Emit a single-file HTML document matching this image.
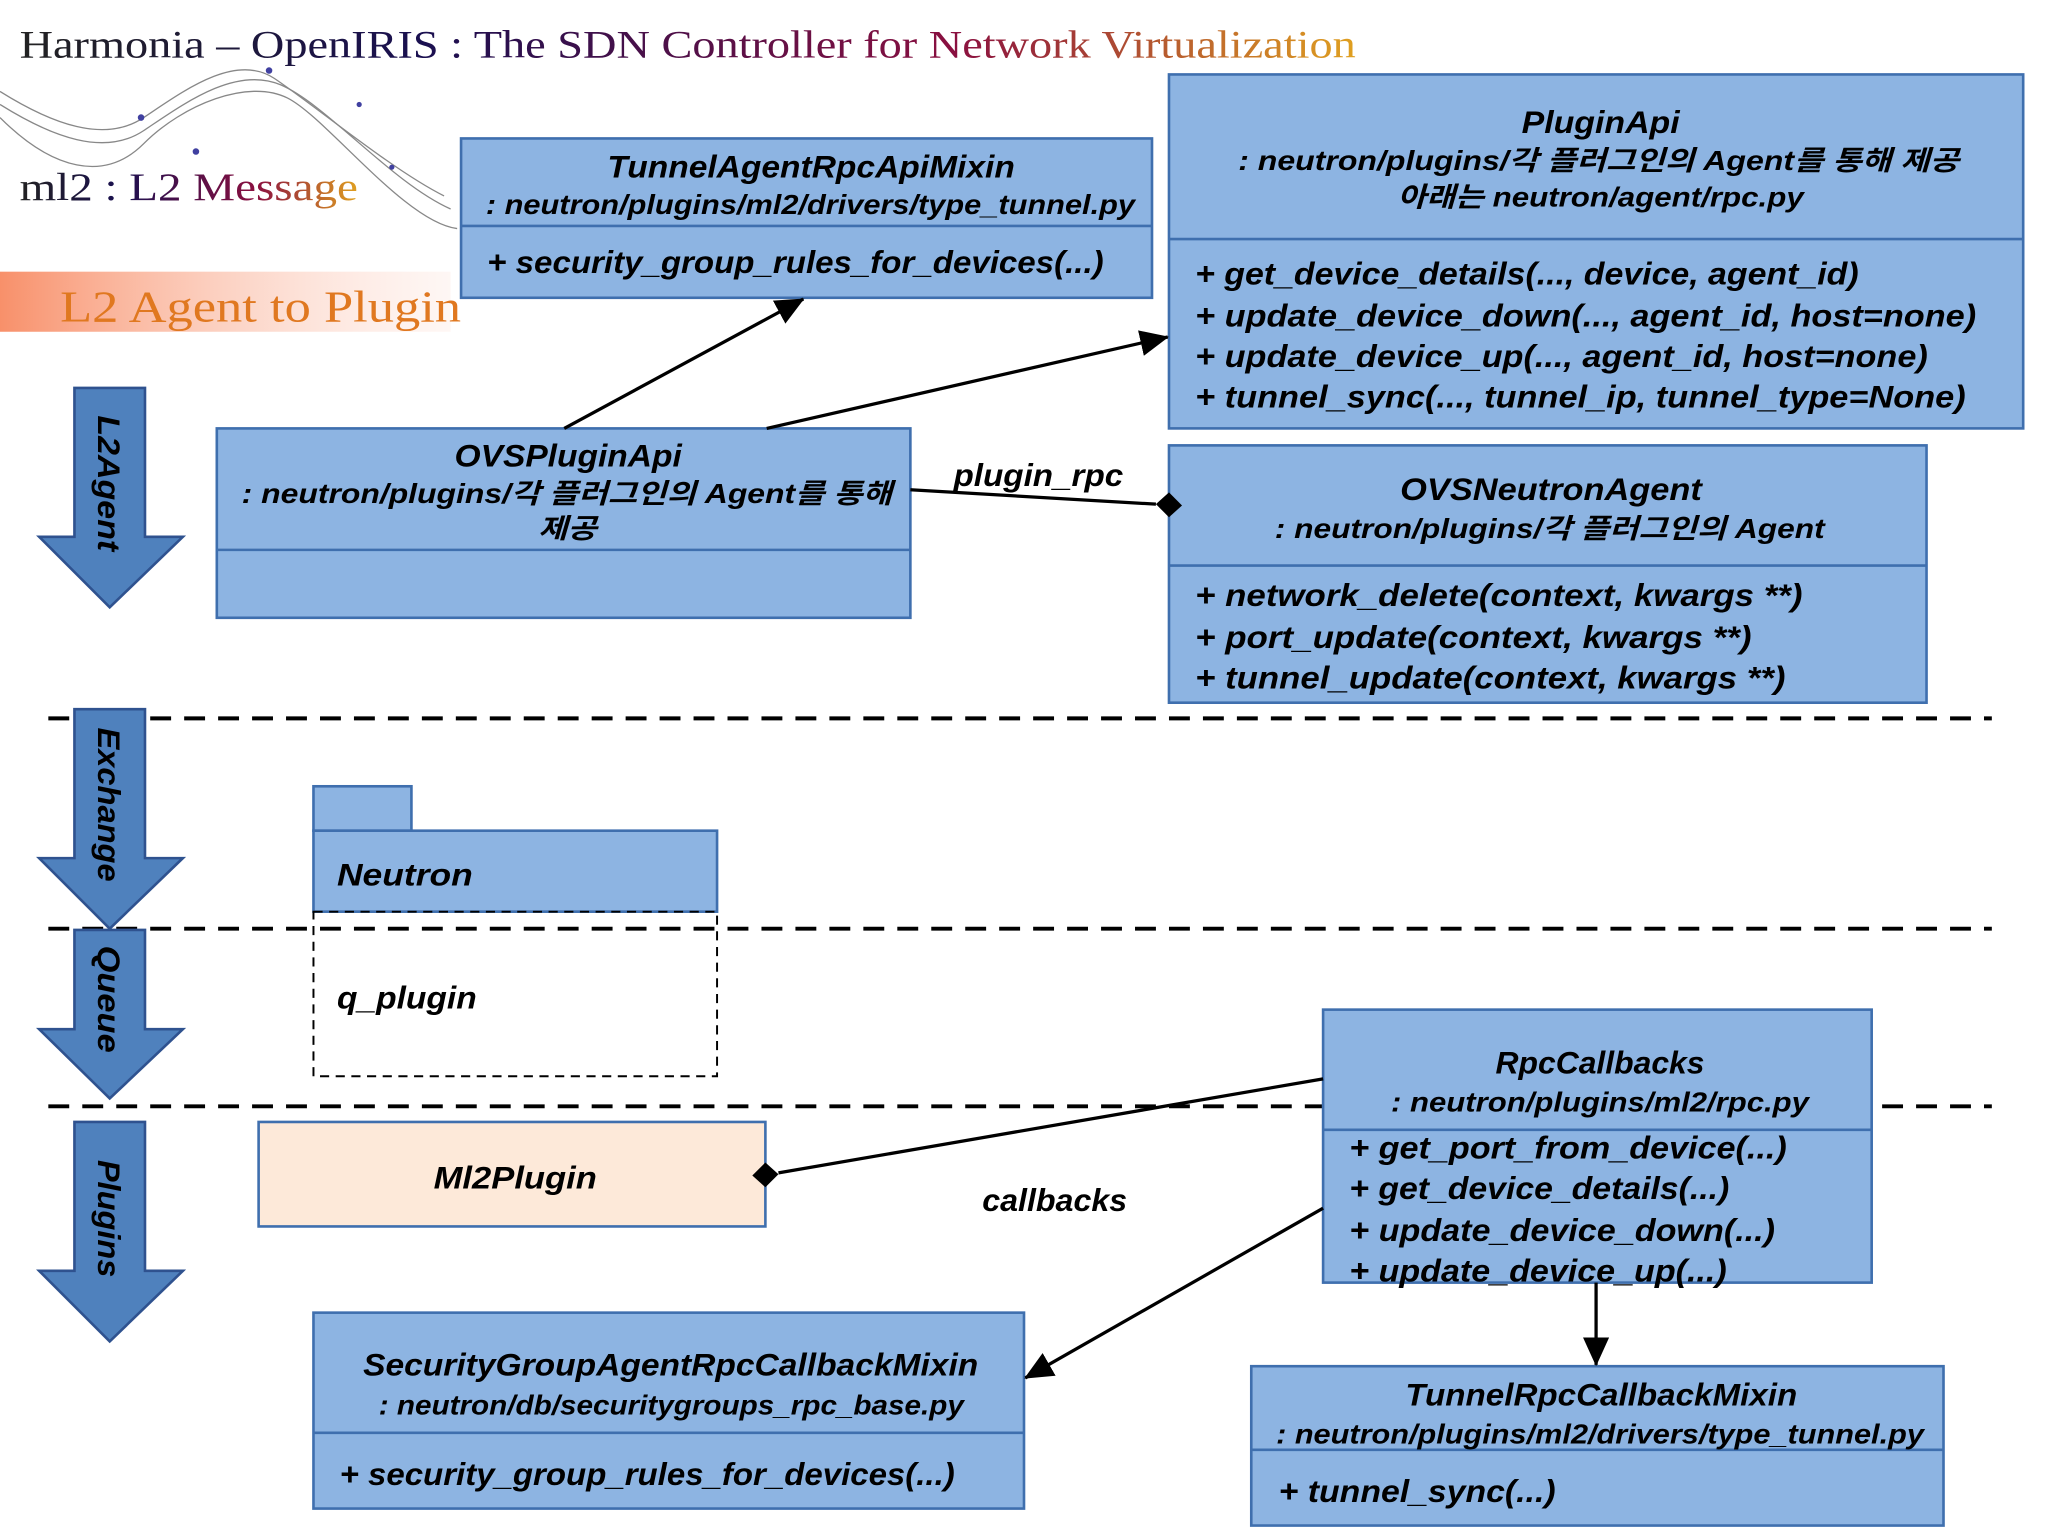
<!DOCTYPE html>
<html><head><meta charset="utf-8"><style>
html,body{margin:0;padding:0;background:#fff;}
svg{display:block;}
.t{font-family:"Liberation Sans","Noto Sans CJK KR",sans-serif;font-weight:bold;font-style:italic;fill:#000;}
.b{fill:#8db4e2;stroke:#3f6fae;stroke-width:2;}
.ar{fill:#4f81bd;stroke:#2f528f;stroke-width:2;}
</style></head><body>
<svg width="2048" height="1536" viewBox="0 0 1568 1176" xmlns="http://www.w3.org/2000/svg">
<defs>
<linearGradient id="og" x1="0" x2="1"><stop offset="0" stop-color="#f8906a"/><stop offset="1" stop-color="#fde4dc" stop-opacity="0.3"/></linearGradient>
<linearGradient id="tg" x1="0" x2="1"><stop offset="0" stop-color="#222"/><stop offset="0.3" stop-color="#1a1050"/><stop offset="0.7" stop-color="#8a1040"/><stop offset="1" stop-color="#e0a020"/></linearGradient>
<marker id="ah" markerWidth="12" markerHeight="12" refX="11" refY="6" orient="auto" markerUnits="userSpaceOnUse"><path d="M0,0 L12,6 L0,12 z" fill="#000"/></marker>
<marker id="ah2" markerWidth="22" markerHeight="20" refX="21" refY="10" orient="auto" markerUnits="userSpaceOnUse"><path d="M0,0 L22,10 L0,20 z" fill="#000"/></marker>
</defs>
<!-- decorative swirls -->
<g fill="none" stroke="#888" stroke-width="1">
<path d="M0,70 C40,95 80,110 110,90 S180,40 210,60 S300,130 340,150"/>
<path d="M0,80 C40,105 80,120 110,100 S180,50 215,65 S300,140 345,160"/>
<path d="M0,90 C40,130 80,140 110,110 S190,60 220,75 S310,170 350,175"/>
</g>
<g fill="#4040a0"><circle cx="206" cy="54" r="2.5"/><circle cx="108" cy="90" r="2.5"/><circle cx="150" cy="116" r="2.5"/><circle cx="275" cy="80" r="2"/><circle cx="300" cy="128" r="2"/></g>
<!-- title -->
<text x="15" y="44" font-family="Liberation Serif,serif" font-size="30" fill="url(#tg)" textLength="1023" lengthAdjust="spacingAndGlyphs">Harmonia – OpenIRIS : The SDN Controller for Network Virtualization</text>
<text x="15" y="153" font-family="Liberation Serif,serif" font-size="30" fill="url(#tg)" textLength="259" lengthAdjust="spacingAndGlyphs">ml2 : L2 Message</text>
<rect x="0" y="208" width="345" height="46" fill="url(#og)"/>
<text x="46" y="246" font-family="Liberation Serif,serif" font-size="34" fill="#e07820" textLength="307" lengthAdjust="spacingAndGlyphs">L2 Agent to Plugin</text>

<!-- dashed separators -->
<g stroke="#000" stroke-width="3" stroke-dasharray="16,10">
<line x1="37" y1="550" x2="1525" y2="550"/>
<line x1="37" y1="711" x2="1525" y2="711"/>
<line x1="37" y1="847" x2="1525" y2="847"/>
</g>

<!-- block arrows -->
<path class="ar" d="M57,297 H111 V411 H140 L84,465 L30,411 H57 Z"/>
<path class="ar" d="M57,543 H111 V657 H140 L84,711 L30,657 H57 Z"/>
<path class="ar" d="M57,712 H111 V788 H140 L84,841 L30,788 H57 Z"/>
<path class="ar" d="M57,859 H111 V973 H140 L84,1027 L30,973 H57 Z"/>
<text class="t" font-size="24" transform="translate(75,318) rotate(90)" textLength="104" lengthAdjust="spacingAndGlyphs">L2Agent</text>
<text class="t" font-size="24" transform="translate(75,557) rotate(90)" textLength="118" lengthAdjust="spacingAndGlyphs">Exchange</text>
<text class="t" font-size="24" transform="translate(75,724) rotate(90)" textLength="82" lengthAdjust="spacingAndGlyphs">Queue</text>
<text class="t" font-size="24" transform="translate(75,888) rotate(90)" textLength="90" lengthAdjust="spacingAndGlyphs">Plugins</text>

<!-- TunnelAgentRpcApiMixin -->
<rect class="b" x="353" y="106" width="529" height="122"/><line x1="353" y1="173" x2="882" y2="173" stroke="#3f6fae" stroke-width="2"/>
<text class="t" font-size="24" x="465" y="136" textLength="312" lengthAdjust="spacingAndGlyphs">TunnelAgentRpcApiMixin</text>
<text class="t" font-size="21" x="372" y="164" textLength="497" lengthAdjust="spacingAndGlyphs">: neutron/plugins/ml2/drivers/type_tunnel.py</text>
<text class="t" font-size="24" x="373" y="209" textLength="472" lengthAdjust="spacingAndGlyphs">+ security_group_rules_for_devices(...)</text>

<!-- PluginApi -->
<rect class="b" x="895" y="57" width="654" height="271"/><line x1="895" y1="183" x2="1549" y2="183" stroke="#3f6fae" stroke-width="2"/>
<text class="t" font-size="24" x="1165" y="102" textLength="121" lengthAdjust="spacingAndGlyphs">PluginApi</text>
<text class="t" font-size="21" x="948" y="130" textLength="552" lengthAdjust="spacingAndGlyphs">: neutron/plugins/각 플러그인의 Agent를 통해 제공</text>
<text class="t" font-size="21" x="1070" y="158" textLength="311" lengthAdjust="spacingAndGlyphs">아래는 neutron/agent/rpc.py</text>
<text class="t" font-size="24" x="915" y="218" textLength="508" lengthAdjust="spacingAndGlyphs">+ get_device_details(..., device, agent_id)</text>
<text class="t" font-size="24" x="915" y="250" textLength="598" lengthAdjust="spacingAndGlyphs">+ update_device_down(..., agent_id, host=none)</text>
<text class="t" font-size="24" x="915" y="281" textLength="561" lengthAdjust="spacingAndGlyphs">+ update_device_up(..., agent_id, host=none)</text>
<text class="t" font-size="24" x="915" y="312" textLength="590" lengthAdjust="spacingAndGlyphs">+ tunnel_sync(..., tunnel_ip, tunnel_type=None)</text>

<!-- OVSPluginApi -->
<rect class="b" x="166" y="328" width="531" height="145"/><line x1="166" y1="421" x2="697" y2="421" stroke="#3f6fae" stroke-width="2"/>
<text class="t" font-size="24" x="348" y="357" textLength="174" lengthAdjust="spacingAndGlyphs">OVSPluginApi</text>
<text class="t" font-size="21" x="185" y="385" textLength="498" lengthAdjust="spacingAndGlyphs">: neutron/plugins/각 플러그인의 Agent를 통해</text>
<text class="t" font-size="21" x="412" y="412" textLength="45" lengthAdjust="spacingAndGlyphs">제공</text>

<!-- OVSNeutronAgent -->
<rect class="b" x="895" y="341" width="580" height="197"/><line x1="895" y1="433" x2="1475" y2="433" stroke="#3f6fae" stroke-width="2"/>
<text class="t" font-size="24" x="1072" y="383" textLength="231" lengthAdjust="spacingAndGlyphs">OVSNeutronAgent</text>
<text class="t" font-size="21" x="976" y="412" textLength="421" lengthAdjust="spacingAndGlyphs">: neutron/plugins/각 플러그인의 Agent</text>
<text class="t" font-size="24" x="915" y="464" textLength="465" lengthAdjust="spacingAndGlyphs">+ network_delete(context, kwargs **)</text>
<text class="t" font-size="24" x="915" y="496" textLength="426" lengthAdjust="spacingAndGlyphs">+ port_update(context, kwargs **)</text>
<text class="t" font-size="24" x="915" y="527" textLength="452" lengthAdjust="spacingAndGlyphs">+ tunnel_update(context, kwargs **)</text>

<!-- Neutron package -->
<rect class="b" x="240" y="602" width="75" height="34"/>
<rect class="b" x="240" y="636" width="309" height="62"/>
<rect x="240" y="698" width="309" height="126" fill="none" stroke="#000" stroke-width="1.5" stroke-dasharray="7,5"/>
<text class="t" font-size="24" x="258" y="678" textLength="104" lengthAdjust="spacingAndGlyphs">Neutron</text>
<text class="t" font-size="24" x="258" y="772" textLength="107" lengthAdjust="spacingAndGlyphs">q_plugin</text>

<!-- Ml2Plugin -->
<rect x="198" y="859" width="388" height="80" fill="#fde9d9" stroke="#3f6fae" stroke-width="2"/>
<text class="t" font-size="24" x="332" y="910" textLength="125" lengthAdjust="spacingAndGlyphs">Ml2Plugin</text>

<!-- RpcCallbacks -->
<rect class="b" x="1013" y="773" width="420" height="209"/><line x1="1013" y1="865" x2="1433" y2="865" stroke="#3f6fae" stroke-width="2"/>
<text class="t" font-size="24" x="1145" y="822" textLength="160" lengthAdjust="spacingAndGlyphs">RpcCallbacks</text>
<text class="t" font-size="21" x="1065" y="851" textLength="320" lengthAdjust="spacingAndGlyphs">: neutron/plugins/ml2/rpc.py</text>
<text class="t" font-size="24" x="1033" y="887" textLength="335" lengthAdjust="spacingAndGlyphs">+ get_port_from_device(...)</text>
<text class="t" font-size="24" x="1033" y="918" textLength="291" lengthAdjust="spacingAndGlyphs">+ get_device_details(...)</text>
<text class="t" font-size="24" x="1033" y="950" textLength="326" lengthAdjust="spacingAndGlyphs">+ update_device_down(...)</text>
<text class="t" font-size="24" x="1033" y="981" textLength="289" lengthAdjust="spacingAndGlyphs">+ update_device_up(...)</text>

<!-- SecurityGroupAgentRpcCallbackMixin -->
<rect class="b" x="240" y="1005" width="544" height="150"/><line x1="240" y1="1097" x2="784" y2="1097" stroke="#3f6fae" stroke-width="2"/>
<text class="t" font-size="24" x="278" y="1053" textLength="471" lengthAdjust="spacingAndGlyphs">SecurityGroupAgentRpcCallbackMixin</text>
<text class="t" font-size="21" x="290" y="1083" textLength="448" lengthAdjust="spacingAndGlyphs">: neutron/db/securitygroups_rpc_base.py</text>
<text class="t" font-size="24" x="260" y="1137" textLength="471" lengthAdjust="spacingAndGlyphs">+ security_group_rules_for_devices(...)</text>

<!-- TunnelRpcCallbackMixin -->
<rect class="b" x="958" y="1046" width="530" height="122"/><line x1="958" y1="1110" x2="1488" y2="1110" stroke="#3f6fae" stroke-width="2"/>
<text class="t" font-size="24" x="1076" y="1076" textLength="300" lengthAdjust="spacingAndGlyphs">TunnelRpcCallbackMixin</text>
<text class="t" font-size="21" x="977" y="1105" textLength="496" lengthAdjust="spacingAndGlyphs">: neutron/plugins/ml2/drivers/type_tunnel.py</text>
<text class="t" font-size="24" x="979" y="1150" textLength="212" lengthAdjust="spacingAndGlyphs">+ tunnel_sync(...)</text>

<!-- connectors -->
<g stroke="#000" stroke-width="2.5" fill="none">
<line x1="432" y1="328" x2="615" y2="229" marker-end="url(#ah2)"/>
<line x1="587" y1="328" x2="894" y2="258" marker-end="url(#ah2)"/>
<line x1="697" y1="375" x2="885" y2="386"/>
<line x1="596" y1="898" x2="1013" y2="826"/>
<line x1="1013" y1="925" x2="785" y2="1055" marker-end="url(#ah2)"/>
<line x1="1222" y1="982" x2="1222" y2="1045" marker-end="url(#ah2)"/>
</g>
<path d="M885,386 L895,377 L905,387 L895,396 Z" fill="#000"/>
<path d="M576,900 L586,890 L596,899 L586,909 Z" fill="#000"/>
<text class="t" font-size="24" x="730" y="372" textLength="130" lengthAdjust="spacingAndGlyphs">plugin_rpc</text>
<text class="t" font-size="24" x="752" y="927" textLength="111" lengthAdjust="spacingAndGlyphs">callbacks</text>
</svg>
</body></html>
